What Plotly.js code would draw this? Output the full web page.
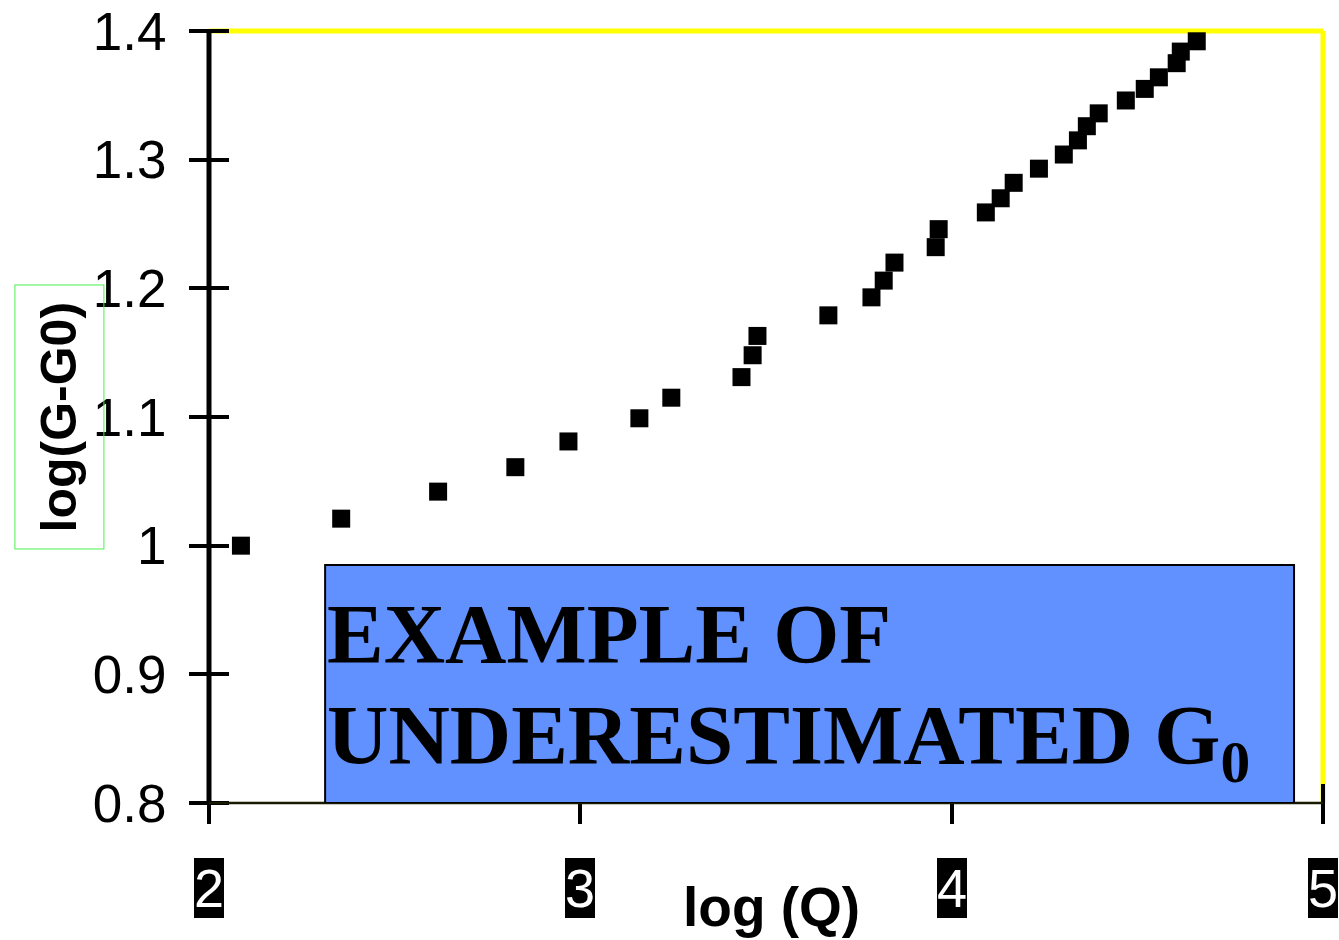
<!DOCTYPE html>
<html>
<head>
<meta charset="utf-8">
<script src="https://cdn.plot.ly/plotly-3.0.1.min.js"></script>
<style>
  html, body { margin: 0; padding: 0; background: #ffffff; }
  #chart { width: 1339px; height: 940px; }
</style>
</head>
<body>
<div id="chart"></div>
<script>
// log(Q) vs log(G - G0) measurements
const logQ = [2.086, 2.356, 2.617, 2.825, 2.968, 3.159, 3.245, 3.434, 3.464, 3.477,
              3.668, 3.784, 3.817, 3.846, 3.957, 3.965, 4.092, 4.132, 4.167, 4.235,
              4.302, 4.340, 4.364, 4.396, 4.469, 4.520, 4.558, 4.606, 4.617, 4.660];
const logG = [1.000, 1.021, 1.042, 1.061, 1.081, 1.099, 1.115, 1.131, 1.148, 1.163,
              1.179, 1.193, 1.206, 1.220, 1.232, 1.246, 1.259, 1.270, 1.282, 1.293,
              1.304, 1.315, 1.326, 1.336, 1.346, 1.355, 1.364, 1.375, 1.384, 1.392];

// axis ticks
const xTickVals = [2, 3, 4, 5];
const xTickText = ['2', '3', '4', '5'];
const yTickVals = [0.8, 0.9, 1.0, 1.1, 1.2, 1.3, 1.4];
const yTickText = ['0.8', '0.9', '1', '1.1', '1.2', '1.3', '1.4'];

// labels
const xTitle = 'log (Q)';
const yTitle = 'log(G-G0)';
const noteLine1 = 'EXAMPLE OF';
const noteLine2 = 'UNDERESTIMATED G<sub>0</sub>';
const noteBox = { x0: 2.3127, x1: 4.922, y0: 0.8, y1: 0.985 };

const xRange = [2, 5];
const yRange = [0.8, 1.4];

const sans = 'Liberation Sans, Arial, sans-serif';
const serif = 'Liberation Serif, Times New Roman, serif';

// crossing tick marks: each axis sits half a tick inside the frame and ticks outward
const plotW = 1339 - 209 - 16;
const plotH = 940 - 31 - 137;
const halfTick = 20;

const trace = {
  type: 'scatter',
  mode: 'markers',
  x: logQ,
  y: logG,
  cliponaxis: false,
  marker: { symbol: 'square', size: 18, color: '#000000', line: { width: 0 } },
  hoverinfo: 'x+y'
};

const annotations = [];
xTickVals.forEach((v, i) => {
  annotations.push({
    x: v, xref: 'x', y: -0.110, yref: 'paper',
    xanchor: 'center', yanchor: 'middle',
    text: xTickText[i], showarrow: false,
    font: { family: sans, size: 54, color: '#ffffff' },
    bgcolor: '#000000', borderpad: 0, borderwidth: 0
  });
});
annotations.push({
  x: 0.5045, xref: 'paper', y: -0.1347, yref: 'paper',
  xanchor: 'center', yanchor: 'middle', showarrow: false,
  text: '<b>' + xTitle + '</b>',
  font: { family: sans, size: 55, color: '#000000' }
});
annotations.push({
  x: -0.1347, xref: 'paper', y: 0.5006, yref: 'paper',
  xanchor: 'center', yanchor: 'middle', showarrow: false,
  textangle: -90,
  text: '<b>' + yTitle + '</b>',
  font: { family: sans, size: 50, color: '#000000' },
  bgcolor: 'rgba(0,0,0,0)', bordercolor: '#4cf04c', borderwidth: 1, borderpad: 16
});
annotations.push({
  x: noteBox.x0, xref: 'x', y: 0.2189, yref: 'paper',
  xanchor: 'left', yanchor: 'middle', showarrow: false, align: 'left',
  text: '<b>' + noteLine1 + '</b>',
  font: { family: serif, size: 85, color: '#000000' }
});
annotations.push({
  x: noteBox.x0, xref: 'x', y: 0.080, yref: 'paper',
  xanchor: 'left', yanchor: 'middle', showarrow: false, align: 'left',
  text: '<b>' + noteLine2 + '</b>',
  font: { family: serif, size: 85, color: '#000000' }
});

const layout = {
  width: 1339,
  height: 940,
  margin: { l: 209, r: 16, t: 31, b: 137, autoexpand: false },
  paper_bgcolor: '#ffffff',
  plot_bgcolor: '#ffffff',
  showlegend: false,
  xaxis: {
    range: xRange, tickvals: xTickVals, showticklabels: false,
    anchor: 'free', position: halfTick / plotH,
    ticks: 'outside', ticklen: 2 * halfTick, tickwidth: 4, tickcolor: '#000000',
    showline: false, showgrid: false, zeroline: false, fixedrange: true
  },
  yaxis: {
    range: yRange, tickvals: yTickVals, ticktext: yTickText,
    anchor: 'free', position: halfTick / plotW,
    ticks: 'outside', ticklen: 2 * halfTick, tickwidth: 4, tickcolor: '#000000',
    tickfont: { family: sans, size: 53, color: '#000000' },
    ticklabelstandoff: 12,
    showline: false, showgrid: false, zeroline: false, fixedrange: true
  },
  shapes: [
    // yellow frame along the top and right edges
    { type: 'line', xref: 'paper', yref: 'paper', x0: 0, x1: 1, y0: 1, y1: 1,
      line: { color: '#ffff00', width: 5 }, layer: 'below' },
    { type: 'line', xref: 'paper', yref: 'paper', x0: 1, x1: 1, y0: 0, y1: 1,
      line: { color: '#ffff00', width: 5 }, layer: 'below' },
    // axis lines
    { type: 'line', xref: 'paper', yref: 'paper', x0: 0, x1: 0, y0: 0, y1: 1,
      line: { color: '#000000', width: 5 }, layer: 'above' },
    { type: 'line', xref: 'paper', yref: 'paper', x0: 0, x1: 1, y0: 0, y1: 0,
      line: { color: '#1a1a00', width: 2.5 }, layer: 'above' },
    // note box
    { type: 'rect', xref: 'x', yref: 'y',
      x0: noteBox.x0, x1: noteBox.x1, y0: noteBox.y0, y1: noteBox.y1,
      fillcolor: '#6190ff', line: { color: '#000000', width: 2 }, layer: 'above' }
  ],
  annotations: annotations
};

Plotly.newPlot('chart', [trace], layout, { displayModeBar: false, staticPlot: true });
</script>
</body>
</html>
